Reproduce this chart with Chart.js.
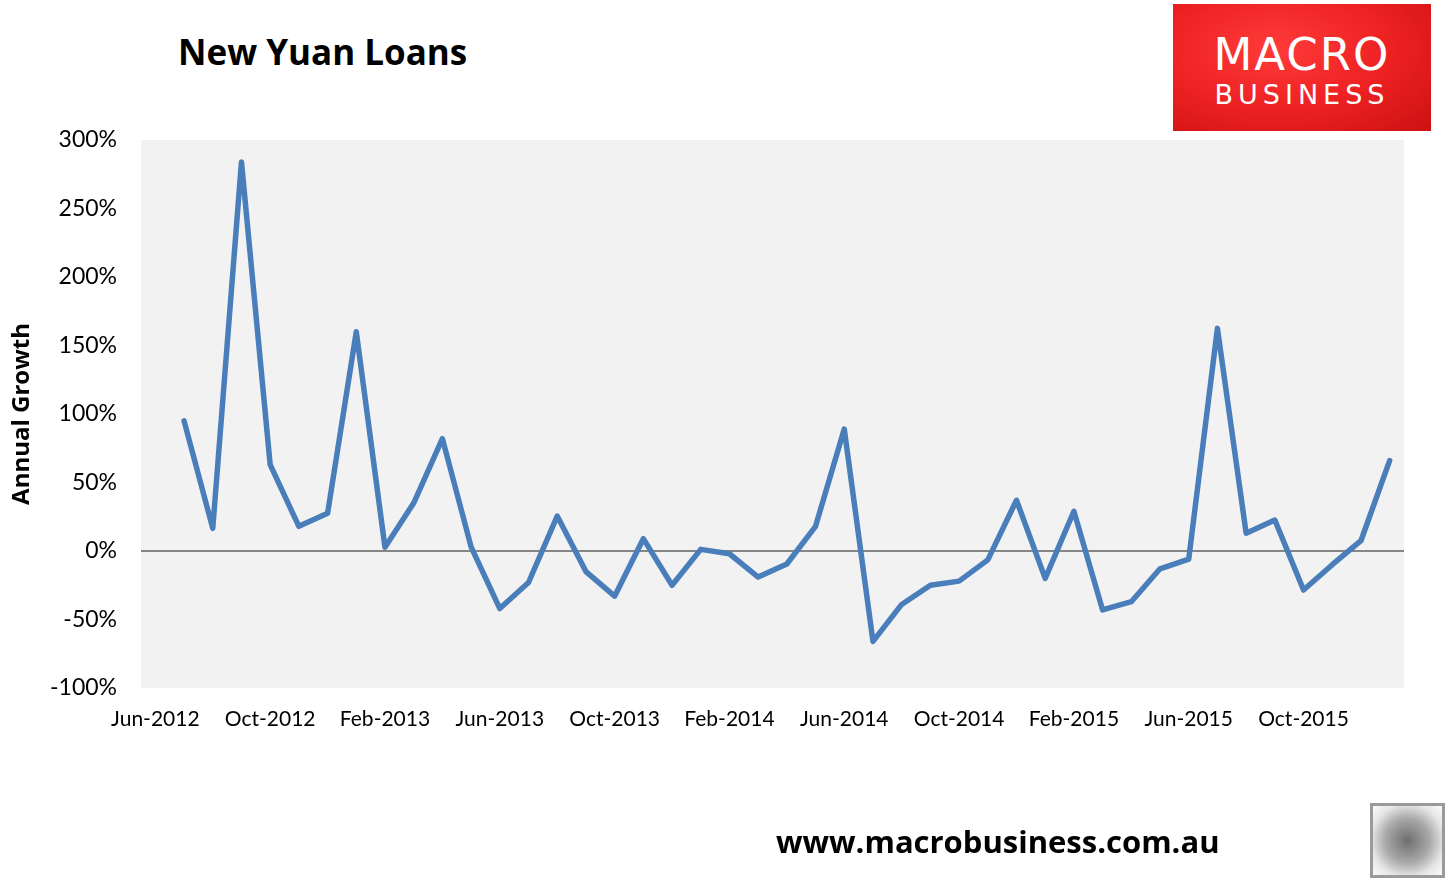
<!DOCTYPE html>
<html>
<head>
<meta charset="utf-8">
<script src="https://cdn.jsdelivr.net/npm/chart.js@4.4.1/dist/chart.umd.min.js"></script>
<style>
  body { margin: 0; background: #fff; width: 1450px; height: 883px; overflow: hidden; position: relative; font-family: Lato, "Noto Sans", sans-serif; }
  #chart { position: absolute; left: 0; top: 0; }
  .title { position: absolute; left: 178px; top: 31px; font-family: "Open Sans", sans-serif; font-size: 35px; font-weight: bold; color: #000; line-height: 1.2; }
  .logo { position: absolute; left: 1173px; top: 4px; width: 258px; height: 127px;
          background: radial-gradient(ellipse at 40% 35%, #ff3a3a 0%, #ee2222 50%, #cc1111 100%);
          color: #fff; text-align: center; font-family: "DejaVu Sans", sans-serif; }
  .logo .m { position: absolute; left: 0; width: 100%; top: 28px; font-size: 45px; letter-spacing: 2px; line-height: 1; }
  .logo .b { position: absolute; left: 0; width: 100%; top: 77px; font-size: 27px; letter-spacing: 5px; line-height: 1; }
  .footer { position: absolute; left: 776px; top: 823px; font-family: "Open Sans", sans-serif; font-size: 31px; font-weight: bold; color: #000; line-height: 1.2; }
  .fox { position: absolute; left: 1370px; top: 803px; width: 69px; height: 69px; border: 3px solid #9a9a9a;
         background: radial-gradient(circle at 50% 50%, #6e6e6e 0%, #a8a8a8 45%, #e6e6e6 75%, #fafafa 100%); }
</style>
</head>
<body>
<div class="title">New Yuan Loans</div>
<div class="logo"><div class="m">MACRO</div><div class="b">BUSINESS</div></div>
<canvas id="chart" width="1450" height="883"></canvas>
<div class="footer">www.macrobusiness.com.au</div>
<div class="fox"></div>
<script>
const months = [
  'Jun-2012', 'Jul-2012', 'Aug-2012', 'Sep-2012', 'Oct-2012', 'Nov-2012', 'Dec-2012',
  'Jan-2013', 'Feb-2013', 'Mar-2013', 'Apr-2013', 'May-2013', 'Jun-2013', 'Jul-2013',
  'Aug-2013', 'Sep-2013', 'Oct-2013', 'Nov-2013', 'Dec-2013', 'Jan-2014', 'Feb-2014',
  'Mar-2014', 'Apr-2014', 'May-2014', 'Jun-2014', 'Jul-2014', 'Aug-2014', 'Sep-2014',
  'Oct-2014', 'Nov-2014', 'Dec-2014', 'Jan-2015', 'Feb-2015', 'Mar-2015', 'Apr-2015',
  'May-2015', 'Jun-2015', 'Jul-2015', 'Aug-2015', 'Sep-2015', 'Oct-2015', 'Nov-2015',
  'Dec-2015', 'Jan-2016'
];

// annual growth of new yuan loans, %
const growth = [
  null, 95, 16.5, 284, 63, 18, 27.5,
  160, 2.7, 35, 82, 3, -42, -23,
  25.5, -15, -33, 9, -25, 1.2, -2,
  -19, -9.5, 18, 89, -66, -39, -25,
  -22, -6.5, 37, -20, 29, -43, -37,
  -13, -6, 162.5, 13, 22.6, -28.5, -10,
  7.5, 66
];

const yMin = -100;
const yMax = 300;
const yStep = 50;

const plotBg = {
  id: 'plotBg',
  beforeDraw(chart) {
    const { ctx, chartArea: a } = chart;
    ctx.save();
    ctx.fillStyle = '#f2f2f2';
    ctx.fillRect(a.left, a.top, a.right - a.left, a.bottom - a.top);
    ctx.restore();
  }
};

const ctx = document.getElementById('chart').getContext('2d');
const loansChart = new Chart(ctx, {
    type: 'line',
    data: {
        labels: months,
        datasets: [{
            label: 'New Yuan Loans',
            data: growth,
            borderColor: '#4a7ebb',
            borderWidth: 5.5,
            pointRadius: 0,
            borderJoinStyle: 'round',
            borderCapStyle: 'round',
            tension: 0
        }]
    },
    options: {
        responsive: false,
        animation: false,
        devicePixelRatio: 1,
        layout: { padding: { top: 140, right: 46, bottom: 135, left: 0 } },
        plugins: { legend: { display: false }, tooltip: { enabled: false } },
        scales: {
            x: {
                offset: true,
                grid: { display: false, drawTicks: false, offset: true },
                border: { display: false },
                ticks: {
                    autoSkip: false, maxRotation: 0, padding: 19,
                    color: '#000', font: { family: 'Lato', size: 21 },
                    callback: (v, i) => i % 4 === 0 ? months[i] : ''
                },
                afterFit: s => { s.height = 60; }
            },
            y: {
                min: yMin, max: yMax,
                grid: {
                    drawTicks: false,
                    lineWidth: 2,
                    color: c => c.tick && c.tick.value === 0 ? '#868686' : 'transparent'
                },
                border: { display: false },
                ticks: {
                    stepSize: yStep, padding: 24,
                    color: '#000', font: { family: 'Lato', size: 23 },
                    callback: v => v + '%'
                },
                title: {
                    display: true, text: 'Annual Growth', color: '#000',
                    font: { family: 'Open Sans', size: 24, weight: 'bold' },
                    padding: { top: 8, bottom: 0 }
                },
                afterFit: s => { s.width = 141; }
            }
        }
    },
    plugins: [plotBg]
});
</script>
</body>
</html>
